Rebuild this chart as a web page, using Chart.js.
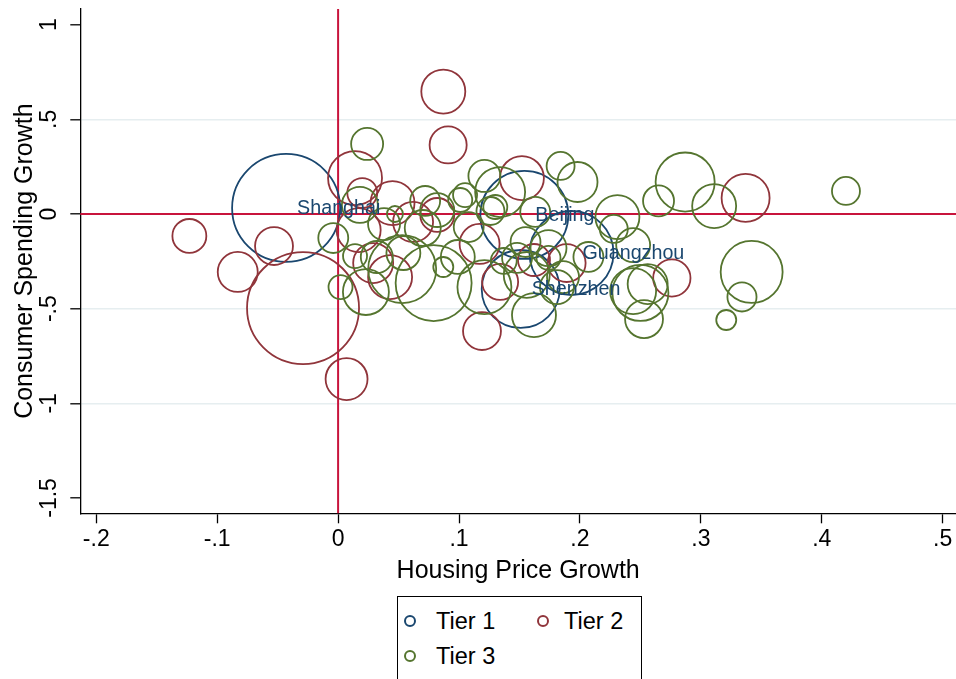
<!DOCTYPE html>
<html><head><meta charset="utf-8">
<script src="https://cdn.jsdelivr.net/npm/chart.js@4.4.1/dist/chart.umd.min.js"></script>
<style>
html,body{margin:0;padding:0;background:#fff;}
#wrap{position:relative;width:956px;height:679px;overflow:hidden;background:#fff;}
#c{position:absolute;left:0;top:0;}
#legend{position:absolute;left:397px;top:596px;width:245px;height:100px;border:1.4px solid #000;box-sizing:border-box;font-family:"Liberation Sans",Arial,sans-serif;font-size:23.5px;color:#000;background:#fff;}
.mk{position:absolute;width:8px;height:8px;border:2px solid;border-radius:50%;}
.tx{position:absolute;line-height:26px;white-space:nowrap;}
</style>
</head><body>
<div id="wrap">
<canvas id="c" width="956" height="679"></canvas>
<div id="legend">
  <div class="mk" style="left:6px;top:18px;border-color:#1a476f"></div><div class="tx" style="left:38px;top:11px">Tier 1</div>
  <div class="mk" style="left:139px;top:18px;border-color:#90353b"></div><div class="tx" style="left:166px;top:11px">Tier 2</div>
  <div class="mk" style="left:6px;top:53px;border-color:#55752f"></div><div class="tx" style="left:38px;top:46px">Tier 3</div>
</div>
</div>
<script>
// ---- data ----
const xTicks = [-0.2,-0.1,0,0.1,0.2,0.3,0.4,0.5];
const yTicks = [1,0.5,0,-0.5,-1,-1.5];
const yGridAt = [0.5,-0.5,-1];

const tier1Names = ['Shanghai','Beijing','Guangzhou','Shenzhen'];
const tier1X = [-0.043, 0.154, 0.193, 0.151];
const tier1Y = [0.032, -0.005, -0.206, -0.396];
const tier1W = [729, 484, 441, 380];

const tier2X = [0.087,0.091,0.014,0.020,0.045,-0.123,-0.053,-0.083,-0.029,0.007,0.119,0.152,0.337,0.276,0.062,0.029,0.043,0.017,0.082,0.117,0.134,0.162,0.189];
const tier2Y = [0.647,0.365,0.190,0.111,0.058,-0.116,-0.169,-0.306,-0.497,-0.872,-0.618,0.190,0.085,-0.338,-0.042,-0.259,-0.333,-0.085,-0.005,-0.158,-0.359,-0.243,-0.259];
const tier2W = [121,86,182,56,121,72,90,100,784,110,90,121,144,87,100,100,121,121,72,100,81,64,90];

const tier3X = [0.024,0.018,-0.004,0.002,0.023,0.014,0.032,0.053,0.054,0.079,0.087,0.072,0.082,0.038,0.047,0.070,0.184,0.198,0.121,0.134,0.105,0.130,0.126,0.287,0.265,0.311,0.231,0.228,0.244,0.108,0.121,0.156,0.162,0.186,0.181,0.244,0.253,0.321,0.342,0.334,0.420,0.163,0.155,0.174,0.148,0.174,0.099,0.137,0.207,0.250,0.101,0.256];
const tier3Y = [0.370,0.048,-0.127,-0.386,-0.412,-0.222,-0.227,-0.291,-0.206,-0.365,-0.280,0.069,0.021,-0.053,0.000,-0.074,0.254,0.169,0.201,0.116,0.100,0.037,0.016,0.169,0.069,0.042,-0.016,-0.079,-0.164,-0.069,-0.386,-0.322,-0.534,-0.333,-0.386,-0.407,-0.555,-0.560,-0.306,-0.438,0.122,0.011,-0.148,-0.180,-0.232,-0.232,-0.227,-0.248,-0.227,-0.417,0.074,-0.370];
const tier3W = [64,81,56,36,132,36,64,289,72,361,25,56,72,64,16,81,49,100,64,156,36,36,49,218,60,121,121,49,72,56,182,132,121,64,72,132,90,25,240,53,49,56,56,81,56,36,72,42,56,196,36,100];

// ---- styling ----
const FONT = '"Liberation Sans", Arial, Helvetica, sans-serif';
const NAVY = '#1a476f', MAROON = '#90353b', GREEN = '#55752f', REFRED = '#c8143c', GRID = '#e6eef0';
const RSCALE = 2;

function pts(xs, ys, ws){ return xs.map((x,i)=>({x:x, y:ys[i], r:RSCALE*Math.sqrt(ws[i])})); }
function fmt(v){ let s = String(Math.round(v*10)/10); return s.replace(/^(-?)0\./,'$1.'); }

const overlay = {
  id:'overlay',
  beforeDatasetsDraw(chart){
    const {ctx, chartArea:a, scales:{x,y}} = chart;
    ctx.save();
    ctx.strokeStyle = REFRED; ctx.lineWidth = 2;
    const x0 = x.getPixelForValue(0), y0 = y.getPixelForValue(0);
    ctx.beginPath(); ctx.moveTo(x0, a.top); ctx.lineTo(x0, a.bottom); ctx.stroke();
    ctx.beginPath(); ctx.moveTo(a.left, y0); ctx.lineTo(a.right, y0); ctx.stroke();
    ctx.restore();
  },
  afterDraw(chart){
    const {ctx, chartArea:a, scales:{x,y}} = chart;
    ctx.save();
    ctx.fillStyle = '#000';
    ctx.font = '23px ' + FONT;
    ctx.textAlign = 'center'; ctx.textBaseline = 'alphabetic';
    yTicks.forEach(v=>{
      const py = y.getPixelForValue(v);
      ctx.save(); ctx.translate(55.5, py); ctx.rotate(-Math.PI/2); ctx.fillText(fmt(v), 0, 0); ctx.restore();
    });
    ctx.font = '25px ' + FONT;
    ctx.save(); ctx.translate(31.5, (a.top+a.bottom)/2); ctx.rotate(-Math.PI/2);
    ctx.fillText('Consumer Spending Growth', 0, 0); ctx.restore();
    ctx.fillText('Housing Price Growth', (a.left+a.right)/2, 578);
    const meta = chart.getDatasetMeta(0);
    ctx.font = '19.7px ' + FONT; ctx.fillStyle = NAVY; ctx.textAlign = 'left'; ctx.textBaseline = 'middle';
    meta.data.forEach((el,i)=>{ ctx.fillText(tier1Names[i], el.x + 11, el.y + 1); });
    ctx.restore();
  }
};

new Chart(document.getElementById('c'), {
  type:'bubble',
  data:{ datasets:[
    {label:'Tier 1', data:pts(tier1X,tier1Y,tier1W), borderColor:NAVY, backgroundColor:'rgba(0,0,0,0)', borderWidth:1.8, order:3},
    {label:'Tier 2', data:pts(tier2X,tier2Y,tier2W), borderColor:MAROON, backgroundColor:'rgba(0,0,0,0)', borderWidth:1.8, order:2},
    {label:'Tier 3', data:pts(tier3X,tier3Y,tier3W), borderColor:GREEN, backgroundColor:'rgba(0,0,0,0)', borderWidth:1.8, order:1}
  ]},
  options:{
    responsive:false, animation:false, events:[],
    layout:{autoPadding:false, padding:{top:9,left:0,right:0,bottom:0}},
    plugins:{legend:{display:false}, tooltip:{enabled:false}},
    scales:{
      x:{ type:'linear', min:-0.2132, max:0.511,
          afterBuildTicks:s=>{ s.ticks = xTicks.map(v=>({value:v})); },
          afterFit:s=>{ s.height = 679-513.3; s.paddingLeft = 0; s.paddingRight = 0; },
          grid:{drawOnChartArea:false, drawTicks:true, tickLength:10, tickColor:'#000', tickWidth:1.3},
          border:{display:true, color:'#000', width:1.3},
          ticks:{color:'#000', font:{family:FONT, size:23}, padding:3, maxRotation:0, minRotation:0, autoSkip:false, callback:v=>fmt(v)}
      },
      y:{ type:'linear', min:-1.581, max:1.083,
          afterBuildTicks:s=>{ s.ticks = yTicks.map(v=>({value:v})); },
          afterFit:s=>{ s.width = 80.3; s.paddingTop = 0; s.paddingBottom = 0; },
          grid:{drawOnChartArea:true, drawTicks:true, tickLength:10, tickColor:'#000', tickWidth:1.3,
                color:c=> yGridAt.includes(c.tick && c.tick.value) ? GRID : 'rgba(0,0,0,0)', lineWidth:1.6},
          border:{display:true, color:'#000', width:1.3},
          ticks:{display:false}
      }
    }
  },
  plugins:[overlay]
});
</script>
</body></html>
